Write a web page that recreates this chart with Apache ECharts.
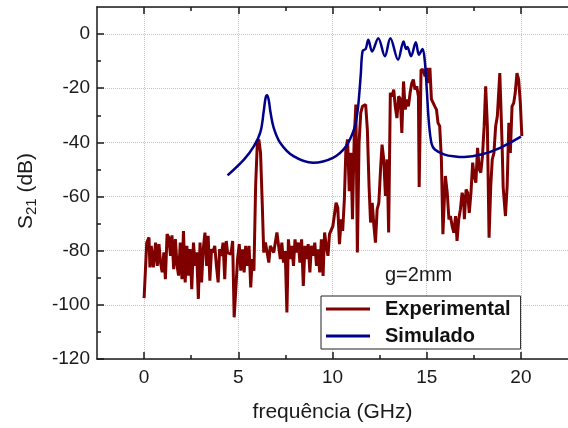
<!DOCTYPE html>
<html>
<head>
<meta charset="utf-8">
<script src="https://cdn.jsdelivr.net/npm/echarts@6/dist/echarts.min.js"></script>
<style>html,body{margin:0;padding:0;background:#fff}#c{width:568px;height:428px}</style>
</head>
<body>
<div id="c"></div>
<script>
var expFreq = [0,0.14,0.26,0.31,0.38,0.49,0.61,0.70,0.79,0.87,0.96,1.05,1.13,1.22,1.31,1.40,1.48,1.57,1.66,1.75,1.83,1.92,2.01,2.09,2.18,2.27,2.36,2.44,2.53,2.62,2.71,2.79,2.88,2.97,3.05,3.14,3.23,3.32,3.40,3.49,3.58,3.66,3.75,3.84,3.93,4.01,4.10,4.19,4.28,4.36,
4.43,4.61,4.70,4.78,4.96,5.05,5.13,5.22,5.31,5.39,5.48,5.57,5.66,5.74,5.83,5.92,6.01,6.09,6.18,6.27,6.35,6.44,6.53,6.62,6.70,6.88,7.05,7.14,7.23,7.31,7.40,7.49,7.58,7.66,7.75,7.84,7.93,8.01,8.10,8.19,8.27,8.36,8.45,8.54,8.62,8.71,8.80,8.88,8.97,9.06,9.15,9.23,9.32,9.41,9.50,9.58,9.67,9.76,9.84,10.02,10.19,10.28,10.37,10.46,10.54,10.63,
10.71,10.80,10.89,10.98,11.06,11.15,11.24,11.32,11.41,11.50,11.59,11.76,11.85,11.94,12.02,12.11,12.20,12.28,12.37,12.46,12.55,12.63,12.72,12.81,12.90,12.98,13.07,13.16,13.25,13.33,13.42,13.51,13.60,13.68,13.77,13.86,13.95,14.03,14.12,14.21,14.29,14.38,14.47,14.56,14.60,14.70,14.82,14.91,15.00,15.08,15.17,15.25,15.34,15.43,15.52,15.60,15.69,15.78,15.86,15.99,16.09,16.18,16.26,16.35,16.44,16.53,16.61,16.70,16.79,16.88,16.96,
17.00,17.09,17.17,17.26,17.35,17.44,17.52,17.61,17.70,17.79,17.87,17.96,18.05,18.13,18.22,18.31,18.40,18.48,18.57,18.66,18.75,18.88,19.00,19.06,19.18,19.27,19.36,19.44,19.53,19.62,19.70,19.79,19.88,19.97,20.05];
var expS21 = [-97.5,-77.0,-75.1,-86.2,-78.2,-86.2,-77.0,-85.6,-77.6,-84.3,-88.0,-80.6,-90.5,-73.9,-75.1,-81.9,-74.3,-86.8,-75.7,-85.6,-89.2,-77.0,-90.5,-72.7,-91.7,-78.2,-89.2,-79.4,-94.2,-77.0,-85.6,-80.6,-97.8,-77.0,-91.7,-79.4,-73.3,-85.6,-74.5,-91.1,-79.4,-80.6,-78.2,-85.6,-91.7,-79.4,-81.9,-77.0,-90.5,-76.4,
-80.7,-81.3,-76.4,-104.6,-83.1,-77.6,-87.4,-79.5,-88.0,-78.2,-85.6,-78.2,-93.6,-83.1,-87.4,-56.1,-40.2,-38.9,-43.8,-62.3,-80.7,-77.0,-80.7,-84.4,-78.2,-80.7,-73.3,-78.2,-83.1,-77.0,-84.4,-80.1,-102.8,-75.8,-83.1,-78.2,-85.6,-75.8,-80.7,-77.0,-84.4,-75.8,-93.0,-78.2,-83.1,-77.6,-88.0,-78.2,-81.9,-77.0,-85.6,-79.5,-88.0,-75.8,-89.3,-73.3,-78.2,-81.9,-73.9,-70.9,-62.3,-64.1,-77.6,-68.4,-72.7,-61.0,
-42.6,-38.9,-58.0,-43.8,-68.4,-38.9,-26.0,-80.7,-40.2,-29.1,-26.7,-26.0,-35.3,-56.1,-69.6,-62.3,-70.9,-77.0,-64.7,-62.3,-50.0,-40.8,-46.3,-59.8,-46.3,-73.3,-21.7,-23.0,-20.5,-26.7,-31.0,-23.0,-24.0,-36.5,-17.5,-27.9,-24.2,-26.7,-21.7,-18.1,-16.8,-20.5,-19.3,-23.0,-56.5,-13.2,-13.2,-15.6,-12.5,-18.1,-12.5,-24.0,-24.2,-26.7,-27.9,-32.8,-34.0,-46.3,-73.9,-52.4,-58.6,-68.4,-67.2,-70.9,-73.3,-67.2,-76.4,-68.4,-64.7,-58.6,-61.0,
-68.4,-57.4,-58.6,-66.0,-58.6,-47.5,-52.4,-54.9,-42.0,-50.0,-51.2,-45.1,-34.0,-19.3,-34.0,-75.2,-56.1,-46.3,-43.9,-34.0,-30.3,-14.4,-40.2,-56.7,-67.2,-56.1,-32.8,-43.9,-26.7,-25.4,-21.7,-14.4,-16.8,-25.4,-37.7];

var simFreq = [4.43,5.31,5.83,6.18,6.35,6.45,6.53,6.62,6.70,6.88,7.23,7.93,8.97,10.02,10.71,11.15,11.32,11.41,11.50,11.60,11.76,11.90,12.10,12.43,12.78,13.07,13.48,13.77,13.90,13.97,14.17,14.42,14.59,14.78,14.90,15.00,15.12,15.26,15.43,15.95,16.50,17.00,17.90,18.90,20.00];
var simS21 = [-52.2,-46.3,-41.4,-36.0,-28.5,-23.5,-22.6,-24.5,-28.5,-34.6,-40.2,-45.1,-47.5,-45.7,-41.5,-35.0,-29.1,-23.0,-15.0,-6.2,-5.5,-2.1,-6.4,-1.5,-8.2,-1.5,-9.5,-2.7,-5.5,-4.8,-8.2,-3.0,-7.6,-5.5,-10.0,-20.0,-33.0,-40.5,-42.6,-44.5,-45.2,-45.4,-44.5,-42.0,-37.9];

var xMajor = [0, 5, 10, 15, 20];
var xMinor = [2.5, 7.5, 12.5, 17.5];
var yMinor = [-110, -90, -70, -50, -30, -10];

var seriesNames = ['Experimental', 'Simulado'];
var annotation = 'g=2mm';
var xTitle = 'frequência (GHz)';

function zip(a, b) { return a.map(function (v, i) { return [v, b[i]]; }); }

var FONT = '"Liberation Sans", Arial, sans-serif';
var AX = '#1a1a1a';

function xAx(pos, major, showLine) {
  return {
    type: 'value', position: pos, min: -2.5, max: 22.5, splitNumber: 5,
    axisLine: { show: showLine, onZero: false, lineStyle: { color: AX, width: 1.5 } },
    axisTick: { show: true, inside: true, length: major ? 7 : 4, customValues: major ? xMajor : xMinor, lineStyle: { color: AX, width: 1.5 } },
    axisLabel: { show: false },
    splitLine: { show: false }
  };
}

var mainX = xAx('bottom', true, true);
mainX.axisLabel = { show: true, customValues: xMajor, fontSize: 19, color: '#1a1a1a', fontFamily: FONT, margin: 9 };
mainX.splitLine = { show: true, lineStyle: { type: 'dotted', color: '#c4c4c4', width: 1 } };
mainX.name = xTitle;
mainX.nameLocation = 'middle';
mainX.nameGap = 43;
mainX.nameTextStyle = { fontSize: 21, color: '#1a1a1a', fontFamily: FONT };

var chart = echarts.init(document.getElementById('c'), null, { renderer: 'canvas' });
chart.setOption({
  animation: false,
  backgroundColor: '#fff',
  grid: { left: 97, right: -7, top: 7, bottom: 68, containLabel: false },
  xAxis: [mainX, xAx('bottom', false, false), xAx('top', true, true), xAx('top', false, false)],
  yAxis: [{
    type: 'value', position: 'left', min: -120, max: 10, interval: 20,
    axisLine: { show: true, onZero: false, lineStyle: { color: AX, width: 1.5 } },
    axisTick: { show: true, inside: true, length: 7, lineStyle: { color: AX, width: 1.5 } },
    axisLabel: { show: true, showMaxLabel: false, fontSize: 19, color: '#1a1a1a', fontFamily: FONT, margin: 7 },
    splitLine: { show: true, lineStyle: { type: 'dotted', color: '#c4c4c4', width: 1 } },
    name: '{m|S}{s|21}{m| (dB)}',
    nameLocation: 'middle', nameGap: 58,
    nameTextStyle: { fontFamily: FONT, color: '#1a1a1a', padding: [0, 16, 0, 0],
      rich: { m: { fontSize: 21, fontFamily: FONT, color: '#1a1a1a', lineHeight: 26 },
              s: { fontSize: 15, fontFamily: FONT, color: '#1a1a1a', lineHeight: 26, verticalAlign: 'bottom', padding: [8, 0, 0, 0] } } }
  }, {
    type: 'value', position: 'left', min: -120, max: 10, interval: 20,
    axisLine: { show: false, onZero: false },
    axisTick: { show: true, inside: true, length: 4, customValues: yMinor, lineStyle: { color: AX, width: 1.5 } },
    axisLabel: { show: false }, splitLine: { show: false }
  }],
  legend: {
    orient: 'vertical', left: 321, top: 296,
    backgroundColor: '#fff', borderColor: '#222', borderWidth: 1,
    padding: [2, 10, 2, 5], itemGap: 5, itemWidth: 44, itemHeight: 3,
    icon: 'rect',
    data: seriesNames,
    textStyle: { fontSize: 20, fontWeight: 'bold', color: '#111', fontFamily: FONT, lineHeight: 22, padding: [0, 0, 0, 10] }
  },
  graphic: [{ type: 'text', left: 385, top: 265, z: 100,
    style: { text: annotation, font: '20px ' + FONT, fill: '#1a1a1a' } }],
  series: [{
    name: seriesNames[0], type: 'line', data: zip(expFreq, expS21), symbol: 'none',
    lineStyle: { color: '#800000', width: 3 }, itemStyle: { color: '#800000' }, z: 3
  }, {
    name: seriesNames[1], type: 'line', data: zip(simFreq, simS21), symbol: 'none', smooth: 0.35,
    lineStyle: { color: '#00008b', width: 2.5 }, itemStyle: { color: '#00008b' }, z: 4
  }]
});
</script>
</body>
</html>
